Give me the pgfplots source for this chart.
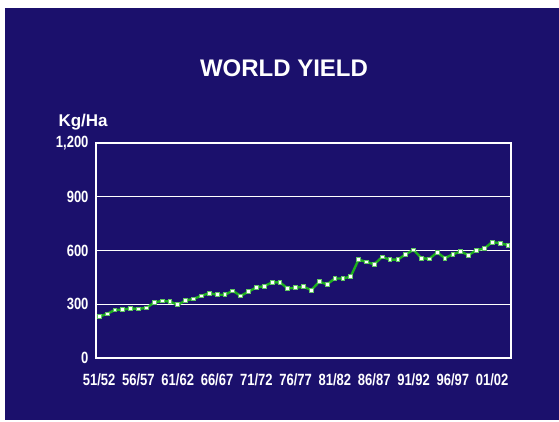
\documentclass[border=0pt]{standalone}
\usepackage{fontspec}
\setmainfont{Liberation Sans}
\usepackage{graphicx}
\usepackage{pgfplots}
\pgfplotsset{compat=1.18}
\definecolor{navybg}{RGB}{27,16,108}
\definecolor{linegreen}{RGB}{30,175,30}
\newcommand{\tall}[1]{\scalebox{1}[1.25]{#1}}

\begin{document}
\begin{tikzpicture}[x=1pt,y=1pt]
\path[use as bounding box] (0,0) rectangle (559,421);
\fill[navybg] (5,1) rectangle (559,413);
\node[text=white,font=\bfseries\fontsize{24}{28}\selectfont] at (284,353) {WORLD YIELD};
\node[text=white,font=\bfseries\fontsize{17}{20}\selectfont,anchor=west] at (55,299) {Kg/Ha};
\begin{axis}[
    at={(96pt,63pt)}, anchor=south west,
    scale only axis,
    width=415pt, height=215pt,
    xmin=-0.4, xmax=52.4,
    ymin=0, ymax=1200,
    xtick={0,5,...,50},
    xticklabels={\tall{51/52},\tall{56/57},\tall{61/62},\tall{66/67},\tall{71/72},\tall{76/77},
        \tall{81/82},\tall{86/87},\tall{91/92},\tall{96/97},\tall{01/02}},
    ytick={0,300,600,900,1200},
    yticklabel={\tall{\pgfmathprintnumber{\tick}}},
    yticklabel style={/pgf/number format/fixed, /pgf/number format/1000 sep={,}, xshift=-4pt},
    major tick length=0pt,
    axis line style={white, line width=1.6pt},
    ymajorgrids=true,
    grid style={white, line width=1.3pt},
    tick label style={text=white, font=\bfseries\fontsize{13}{15}\selectfont,
        /pgf/number format/assume math mode=true},
    xticklabel style={yshift=-12pt},
]
\addplot[linegreen, line width=2.4pt, mark=square*, mark size=1.9pt,
    mark options={fill=white, draw=linegreen!70!white, line width=0.8pt}]
coordinates {
(0,231) (1,246) (2,268) (3,270) (4,277) (5,274) (6,280) (7,309) (8,319) (9,315)
(10,297) (11,321) (12,330) (13,347) (14,362) (15,353) (16,353) (17,375) (18,347) (19,370)
(20,394) (21,401) (22,422) (23,422) (24,388) (25,392) (26,398) (27,379) (28,426) (29,411)
(30,444) (31,444) (32,454) (33,549) (34,536) (35,523) (36,564) (37,549) (38,549) (39,579)
(40,603) (41,558) (42,553) (43,589) (44,558) (45,579) (46,594) (47,574) (48,602) (49,611)
(50,647) (51,641) (52,630)
};
\end{axis}
\end{tikzpicture}
\end{document}
